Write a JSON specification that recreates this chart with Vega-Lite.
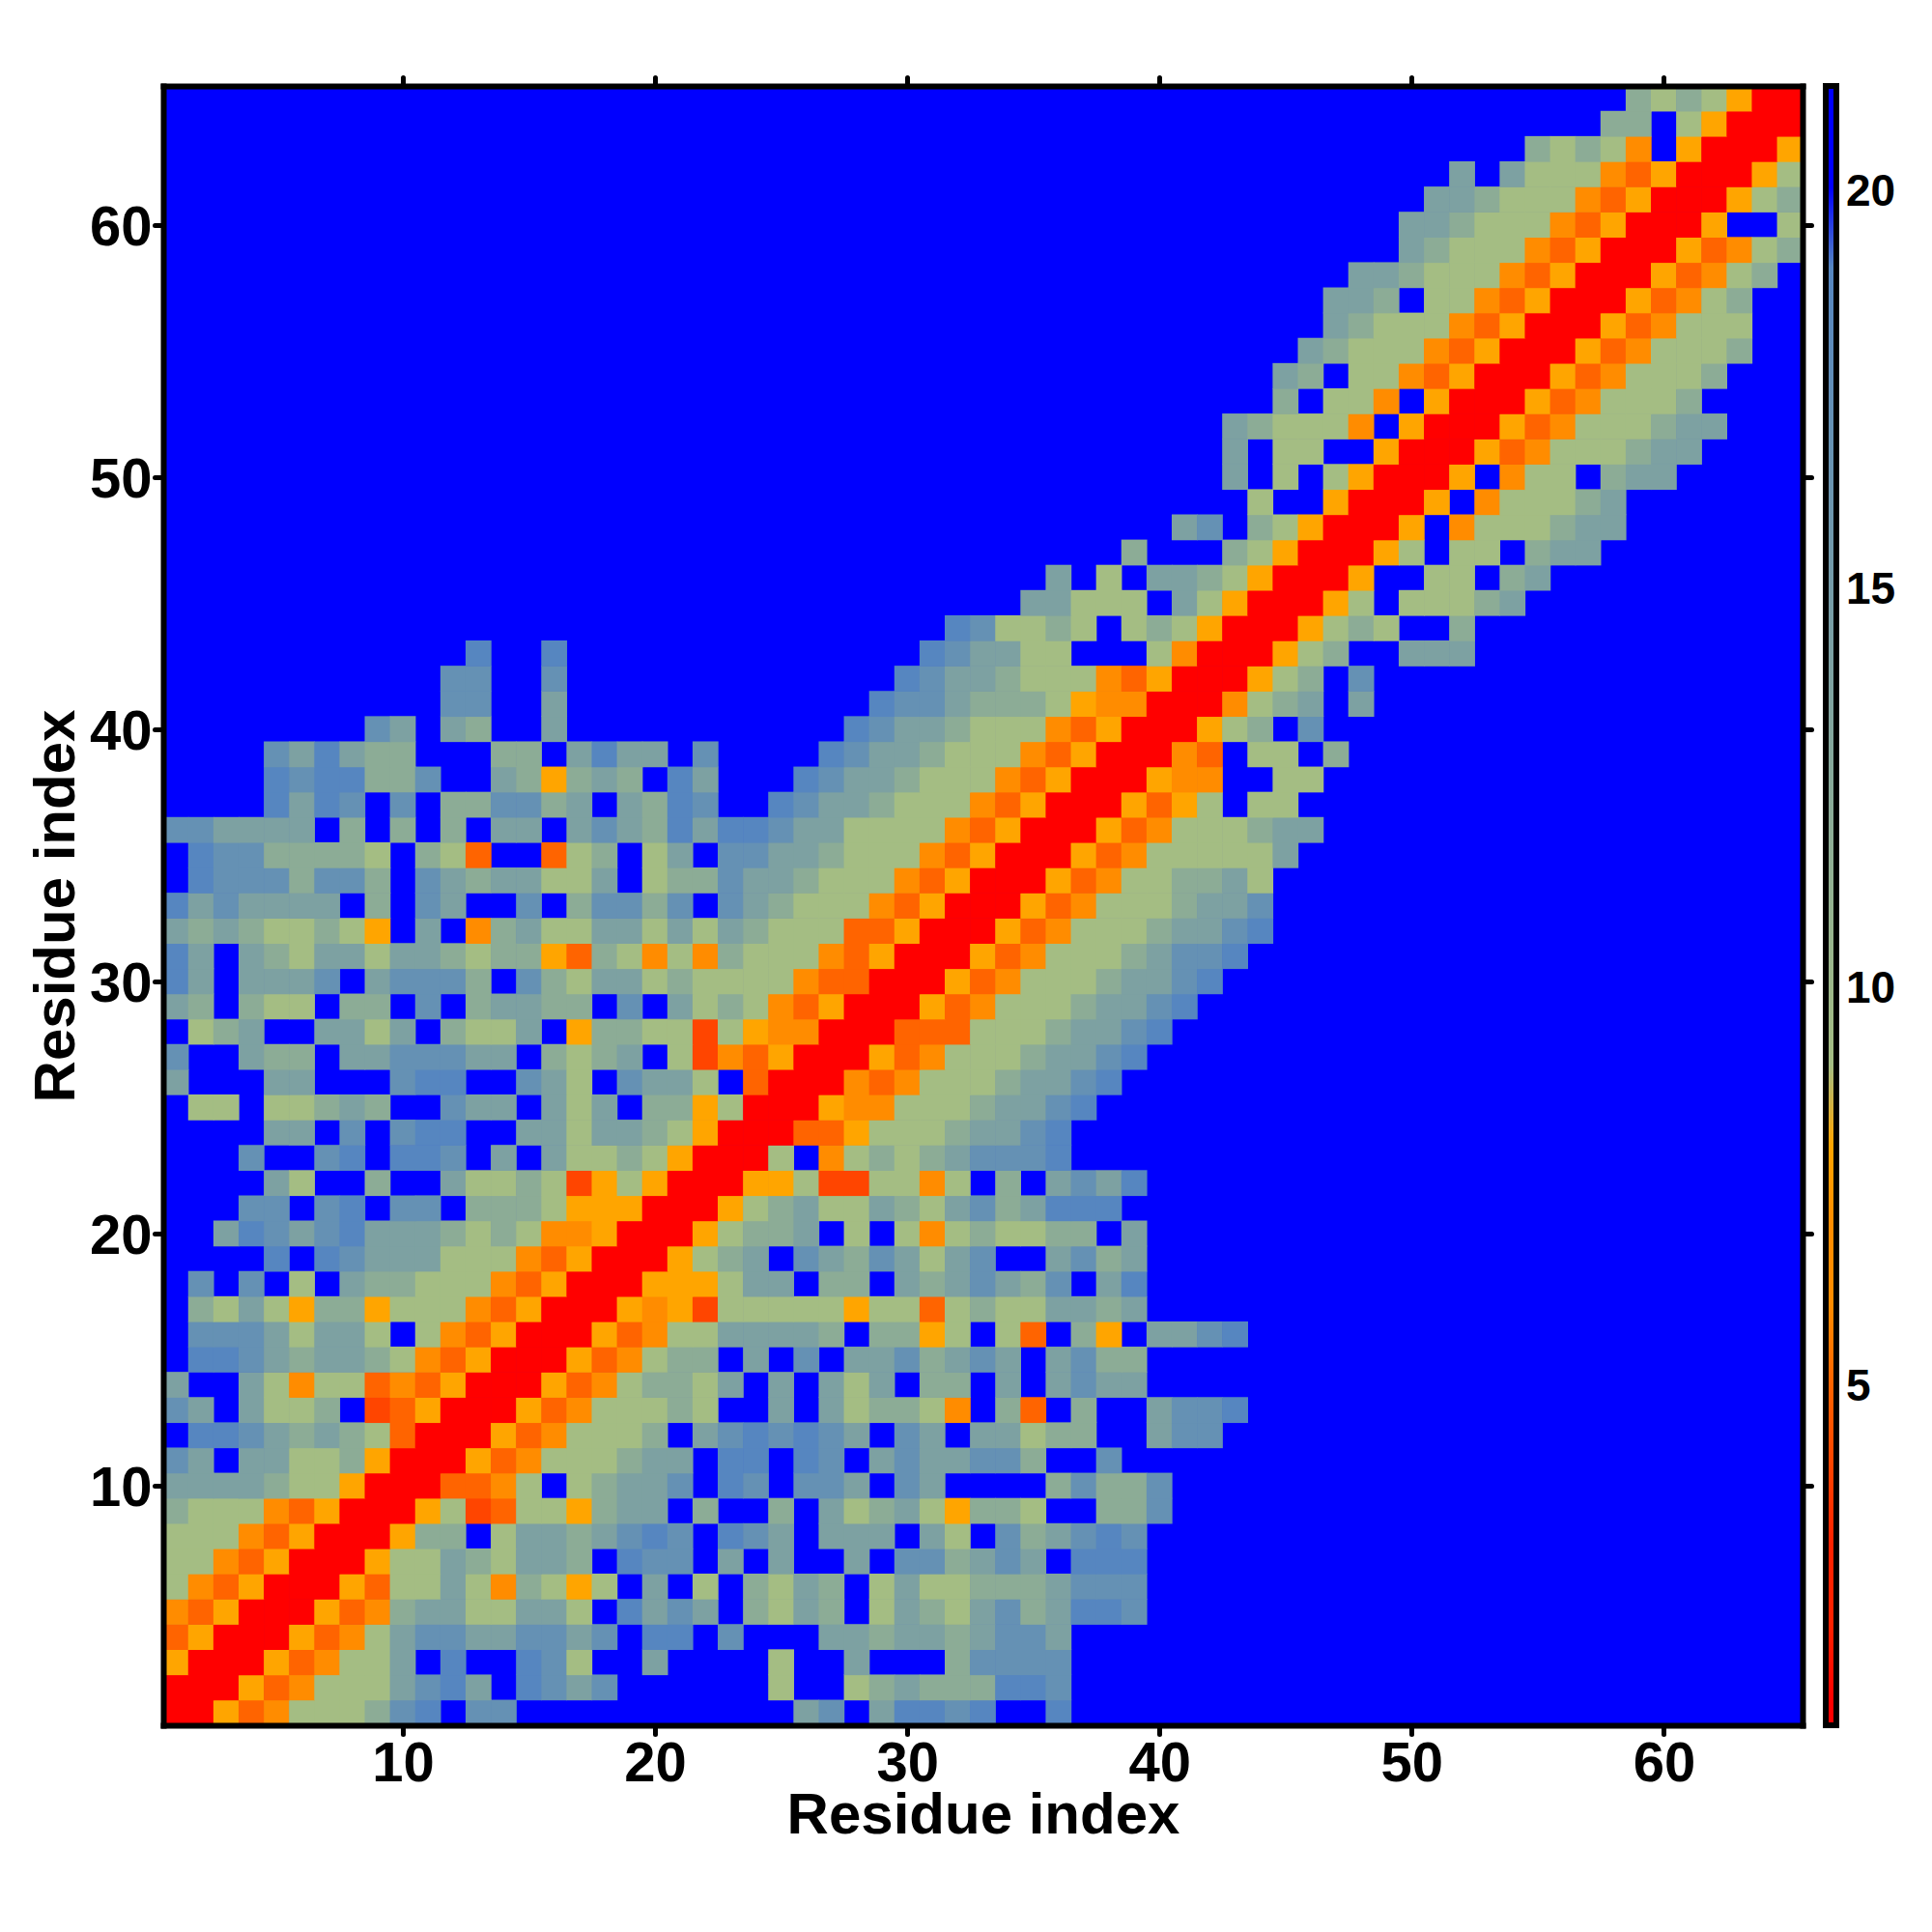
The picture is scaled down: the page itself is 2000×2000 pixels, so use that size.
{"$schema":"https://vega.github.io/schema/vega-lite/v6.json","width":1697,"height":1697,"autosize":"none","padding":{"left":169,"top":89,"right":134,"bottom":214},"background":"white","view":{"fill":"#0000ff","stroke":null},"config":{"font":"Liberation Sans"},"resolve":{"axis":{"x":"independent","y":"independent"}},"layer":[{"data":{"values":[
{"x":1,"y":1,"v":1},{"x":2,"y":1,"v":1},{"x":3,"y":1,"v":8},{"x":4,"y":1,"v":5},{"x":5,"y":1,"v":6},{"x":6,"y":1,"v":9},{"x":7,"y":1,"v":9},{"x":8,"y":1,"v":9},{"x":9,"y":1,"v":12},{"x":10,"y":1,"v":17},{"x":11,"y":1,"v":19},{"x":13,"y":1,"v":17},{"x":14,"y":1,"v":17},{"x":26,"y":1,"v":14},{"x":27,"y":1,"v":17},{"x":29,"y":1,"v":14},{"x":30,"y":1,"v":19},{"x":31,"y":1,"v":19},{"x":32,"y":1,"v":17},{"x":33,"y":1,"v":19},{"x":36,"y":1,"v":19},
{"x":1,"y":2,"v":1},{"x":2,"y":2,"v":1},{"x":3,"y":2,"v":1},{"x":4,"y":2,"v":8},{"x":5,"y":2,"v":5},{"x":6,"y":2,"v":6},{"x":7,"y":2,"v":9},{"x":8,"y":2,"v":9},{"x":9,"y":2,"v":9},{"x":10,"y":2,"v":14},{"x":11,"y":2,"v":17},{"x":12,"y":2,"v":19},{"x":13,"y":2,"v":14},{"x":15,"y":2,"v":19},{"x":16,"y":2,"v":17},{"x":17,"y":2,"v":14},{"x":18,"y":2,"v":17},{"x":25,"y":2,"v":9},{"x":28,"y":2,"v":9},{"x":29,"y":2,"v":12},{"x":30,"y":2,"v":14},{"x":31,"y":2,"v":12},{"x":32,"y":2,"v":12},{"x":33,"y":2,"v":12},{"x":34,"y":2,"v":19},{"x":35,"y":2,"v":19},{"x":36,"y":2,"v":17},
{"x":1,"y":3,"v":8},{"x":2,"y":3,"v":1},{"x":3,"y":3,"v":1},{"x":4,"y":3,"v":1},{"x":5,"y":3,"v":8},{"x":6,"y":3,"v":5},{"x":7,"y":3,"v":6},{"x":8,"y":3,"v":9},{"x":9,"y":3,"v":9},{"x":10,"y":3,"v":14},{"x":12,"y":3,"v":19},{"x":15,"y":3,"v":19},{"x":16,"y":3,"v":17},{"x":17,"y":3,"v":9},{"x":20,"y":3,"v":14},{"x":25,"y":3,"v":9},{"x":28,"y":3,"v":14},{"x":32,"y":3,"v":12},{"x":33,"y":3,"v":17},{"x":34,"y":3,"v":17},{"x":35,"y":3,"v":17},{"x":36,"y":3,"v":17},
{"x":1,"y":4,"v":5},{"x":2,"y":4,"v":8},{"x":3,"y":4,"v":1},{"x":4,"y":4,"v":1},{"x":5,"y":4,"v":1},{"x":6,"y":4,"v":8},{"x":7,"y":4,"v":5},{"x":8,"y":4,"v":6},{"x":9,"y":4,"v":9},{"x":10,"y":4,"v":14},{"x":11,"y":4,"v":17},{"x":12,"y":4,"v":17},{"x":13,"y":4,"v":14},{"x":14,"y":4,"v":14},{"x":15,"y":4,"v":17},{"x":16,"y":4,"v":17},{"x":17,"y":4,"v":14},{"x":18,"y":4,"v":17},{"x":20,"y":4,"v":19},{"x":21,"y":4,"v":19},{"x":23,"y":4,"v":17},{"x":27,"y":4,"v":14},{"x":28,"y":4,"v":14},{"x":29,"y":4,"v":12},{"x":30,"y":4,"v":14},{"x":31,"y":4,"v":14},{"x":32,"y":4,"v":12},{"x":33,"y":4,"v":14},{"x":34,"y":4,"v":17},{"x":35,"y":4,"v":17},{"x":36,"y":4,"v":14},
{"x":1,"y":5,"v":6},{"x":2,"y":5,"v":5},{"x":3,"y":5,"v":8},{"x":4,"y":5,"v":1},{"x":5,"y":5,"v":1},{"x":6,"y":5,"v":1},{"x":7,"y":5,"v":8},{"x":8,"y":5,"v":5},{"x":9,"y":5,"v":6},{"x":10,"y":5,"v":12},{"x":11,"y":5,"v":14},{"x":12,"y":5,"v":14},{"x":13,"y":5,"v":9},{"x":14,"y":5,"v":9},{"x":15,"y":5,"v":14},{"x":16,"y":5,"v":14},{"x":17,"y":5,"v":9},{"x":19,"y":5,"v":19},{"x":20,"y":5,"v":14},{"x":21,"y":5,"v":17},{"x":22,"y":5,"v":14},{"x":24,"y":5,"v":12},{"x":25,"y":5,"v":9},{"x":26,"y":5,"v":14},{"x":27,"y":5,"v":12},{"x":29,"y":5,"v":9},{"x":30,"y":5,"v":14},{"x":31,"y":5,"v":12},{"x":32,"y":5,"v":9},{"x":33,"y":5,"v":14},{"x":34,"y":5,"v":17},{"x":35,"y":5,"v":12},{"x":36,"y":5,"v":14},{"x":37,"y":5,"v":19},{"x":38,"y":5,"v":19},{"x":39,"y":5,"v":17},
{"x":1,"y":6,"v":9},{"x":2,"y":6,"v":6},{"x":3,"y":6,"v":5},{"x":4,"y":6,"v":8},{"x":5,"y":6,"v":1},{"x":6,"y":6,"v":1},{"x":7,"y":6,"v":1},{"x":8,"y":6,"v":8},{"x":9,"y":6,"v":5},{"x":10,"y":6,"v":9},{"x":11,"y":6,"v":9},{"x":12,"y":6,"v":14},{"x":13,"y":6,"v":9},{"x":14,"y":6,"v":6},{"x":15,"y":6,"v":12},{"x":16,"y":6,"v":9},{"x":17,"y":6,"v":8},{"x":18,"y":6,"v":9},{"x":20,"y":6,"v":14},{"x":22,"y":6,"v":9},{"x":24,"y":6,"v":12},{"x":25,"y":6,"v":9},{"x":26,"y":6,"v":14},{"x":27,"y":6,"v":12},{"x":29,"y":6,"v":9},{"x":30,"y":6,"v":14},{"x":31,"y":6,"v":9},{"x":32,"y":6,"v":9},{"x":33,"y":6,"v":12},{"x":34,"y":6,"v":12},{"x":35,"y":6,"v":12},{"x":36,"y":6,"v":14},{"x":37,"y":6,"v":17},{"x":38,"y":6,"v":17},{"x":39,"y":6,"v":17},
{"x":1,"y":7,"v":9},{"x":2,"y":7,"v":9},{"x":3,"y":7,"v":6},{"x":4,"y":7,"v":5},{"x":5,"y":7,"v":8},{"x":6,"y":7,"v":1},{"x":7,"y":7,"v":1},{"x":8,"y":7,"v":1},{"x":9,"y":7,"v":8},{"x":10,"y":7,"v":9},{"x":11,"y":7,"v":9},{"x":12,"y":7,"v":14},{"x":13,"y":7,"v":12},{"x":14,"y":7,"v":9},{"x":15,"y":7,"v":14},{"x":16,"y":7,"v":14},{"x":17,"y":7,"v":12},{"x":19,"y":7,"v":19},{"x":20,"y":7,"v":17},{"x":21,"y":7,"v":17},{"x":23,"y":7,"v":14},{"x":25,"y":7,"v":14},{"x":28,"y":7,"v":14},{"x":30,"y":7,"v":17},{"x":31,"y":7,"v":17},{"x":32,"y":7,"v":12},{"x":33,"y":7,"v":14},{"x":34,"y":7,"v":17},{"x":35,"y":7,"v":14},{"x":37,"y":7,"v":19},{"x":38,"y":7,"v":19},{"x":39,"y":7,"v":19},
{"x":1,"y":8,"v":9},{"x":2,"y":8,"v":9},{"x":3,"y":8,"v":9},{"x":4,"y":8,"v":6},{"x":5,"y":8,"v":5},{"x":6,"y":8,"v":8},{"x":7,"y":8,"v":1},{"x":8,"y":8,"v":1},{"x":9,"y":8,"v":1},{"x":10,"y":8,"v":8},{"x":11,"y":8,"v":12},{"x":12,"y":8,"v":12},{"x":14,"y":8,"v":9},{"x":15,"y":8,"v":14},{"x":16,"y":8,"v":14},{"x":17,"y":8,"v":12},{"x":18,"y":8,"v":14},{"x":19,"y":8,"v":17},{"x":20,"y":8,"v":19},{"x":21,"y":8,"v":17},{"x":23,"y":8,"v":19},{"x":24,"y":8,"v":17},{"x":25,"y":8,"v":14},{"x":27,"y":8,"v":14},{"x":28,"y":8,"v":14},{"x":29,"y":8,"v":14},{"x":31,"y":8,"v":14},{"x":32,"y":8,"v":9},{"x":34,"y":8,"v":17},{"x":35,"y":8,"v":12},{"x":36,"y":8,"v":14},{"x":37,"y":8,"v":17},{"x":38,"y":8,"v":19},{"x":39,"y":8,"v":17},
{"x":1,"y":9,"v":12},{"x":2,"y":9,"v":9},{"x":3,"y":9,"v":9},{"x":4,"y":9,"v":9},{"x":5,"y":9,"v":6},{"x":6,"y":9,"v":5},{"x":7,"y":9,"v":8},{"x":8,"y":9,"v":1},{"x":9,"y":9,"v":1},{"x":10,"y":9,"v":1},{"x":11,"y":9,"v":8},{"x":12,"y":9,"v":9},{"x":13,"y":9,"v":4},{"x":14,"y":9,"v":5},{"x":15,"y":9,"v":9},{"x":16,"y":9,"v":9},{"x":17,"y":9,"v":8},{"x":18,"y":9,"v":12},{"x":19,"y":9,"v":14},{"x":20,"y":9,"v":14},{"x":22,"y":9,"v":12},{"x":25,"y":9,"v":12},{"x":27,"y":9,"v":14},{"x":28,"y":9,"v":9},{"x":29,"y":9,"v":12},{"x":30,"y":9,"v":14},{"x":31,"y":9,"v":9},{"x":32,"y":9,"v":8},{"x":33,"y":9,"v":12},{"x":34,"y":9,"v":12},{"x":35,"y":9,"v":9},{"x":38,"y":9,"v":12},{"x":39,"y":9,"v":12},{"x":40,"y":9,"v":17},
{"x":1,"y":10,"v":14},{"x":2,"y":10,"v":14},{"x":3,"y":10,"v":14},{"x":4,"y":10,"v":14},{"x":5,"y":10,"v":12},{"x":6,"y":10,"v":9},{"x":7,"y":10,"v":9},{"x":8,"y":10,"v":8},{"x":9,"y":10,"v":1},{"x":10,"y":10,"v":1},{"x":11,"y":10,"v":1},{"x":12,"y":10,"v":5},{"x":13,"y":10,"v":5},{"x":14,"y":10,"v":6},{"x":15,"y":10,"v":9},{"x":17,"y":10,"v":9},{"x":18,"y":10,"v":12},{"x":19,"y":10,"v":14},{"x":20,"y":10,"v":14},{"x":21,"y":10,"v":17},{"x":23,"y":10,"v":19},{"x":24,"y":10,"v":17},{"x":26,"y":10,"v":17},{"x":27,"y":10,"v":17},{"x":28,"y":10,"v":14},{"x":30,"y":10,"v":17},{"x":31,"y":10,"v":14},{"x":36,"y":10,"v":12},{"x":37,"y":10,"v":17},{"x":38,"y":10,"v":12},{"x":39,"y":10,"v":12},{"x":40,"y":10,"v":17},
{"x":1,"y":11,"v":17},{"x":2,"y":11,"v":14},{"x":4,"y":11,"v":14},{"x":5,"y":11,"v":14},{"x":6,"y":11,"v":9},{"x":7,"y":11,"v":9},{"x":8,"y":11,"v":12},{"x":9,"y":11,"v":8},{"x":10,"y":11,"v":1},{"x":11,"y":11,"v":1},{"x":12,"y":11,"v":1},{"x":13,"y":11,"v":8},{"x":14,"y":11,"v":5},{"x":15,"y":11,"v":6},{"x":16,"y":11,"v":9},{"x":17,"y":11,"v":9},{"x":18,"y":11,"v":9},{"x":19,"y":11,"v":12},{"x":20,"y":11,"v":14},{"x":21,"y":11,"v":14},{"x":23,"y":11,"v":19},{"x":24,"y":11,"v":19},{"x":26,"y":11,"v":19},{"x":27,"y":11,"v":17},{"x":29,"y":11,"v":14},{"x":30,"y":11,"v":17},{"x":31,"y":11,"v":14},{"x":32,"y":11,"v":14},{"x":33,"y":11,"v":17},{"x":34,"y":11,"v":17},{"x":35,"y":11,"v":12},{"x":38,"y":11,"v":17},
{"x":2,"y":12,"v":19},{"x":3,"y":12,"v":19},{"x":4,"y":12,"v":17},{"x":5,"y":12,"v":14},{"x":6,"y":12,"v":12},{"x":7,"y":12,"v":14},{"x":8,"y":12,"v":12},{"x":9,"y":12,"v":9},{"x":10,"y":12,"v":5},{"x":11,"y":12,"v":1},{"x":12,"y":12,"v":1},{"x":13,"y":12,"v":1},{"x":14,"y":12,"v":8},{"x":15,"y":12,"v":5},{"x":16,"y":12,"v":6},{"x":17,"y":12,"v":9},{"x":18,"y":12,"v":9},{"x":19,"y":12,"v":9},{"x":20,"y":12,"v":12},{"x":22,"y":12,"v":14},{"x":23,"y":12,"v":17},{"x":24,"y":12,"v":19},{"x":25,"y":12,"v":17},{"x":26,"y":12,"v":19},{"x":27,"y":12,"v":17},{"x":28,"y":12,"v":14},{"x":30,"y":12,"v":17},{"x":31,"y":12,"v":14},{"x":33,"y":12,"v":14},{"x":34,"y":12,"v":14},{"x":35,"y":12,"v":9},{"x":36,"y":12,"v":12},{"x":37,"y":12,"v":12},{"x":40,"y":12,"v":14},{"x":41,"y":12,"v":17},{"x":42,"y":12,"v":17},
{"x":1,"y":13,"v":17},{"x":2,"y":13,"v":14},{"x":4,"y":13,"v":14},{"x":5,"y":13,"v":9},{"x":6,"y":13,"v":9},{"x":7,"y":13,"v":12},{"x":9,"y":13,"v":4},{"x":10,"y":13,"v":5},{"x":11,"y":13,"v":8},{"x":12,"y":13,"v":1},{"x":13,"y":13,"v":1},{"x":14,"y":13,"v":1},{"x":15,"y":13,"v":8},{"x":16,"y":13,"v":5},{"x":17,"y":13,"v":6},{"x":18,"y":13,"v":9},{"x":19,"y":13,"v":9},{"x":20,"y":13,"v":9},{"x":21,"y":13,"v":12},{"x":22,"y":13,"v":9},{"x":25,"y":13,"v":14},{"x":27,"y":13,"v":14},{"x":28,"y":13,"v":9},{"x":29,"y":13,"v":12},{"x":30,"y":13,"v":12},{"x":31,"y":13,"v":9},{"x":32,"y":13,"v":6},{"x":34,"y":13,"v":12},{"x":35,"y":13,"v":5},{"x":37,"y":13,"v":12},{"x":40,"y":13,"v":14},{"x":41,"y":13,"v":17},{"x":42,"y":13,"v":17},{"x":43,"y":13,"v":19},
{"x":1,"y":14,"v":14},{"x":4,"y":14,"v":14},{"x":5,"y":14,"v":9},{"x":6,"y":14,"v":6},{"x":7,"y":14,"v":9},{"x":8,"y":14,"v":9},{"x":9,"y":14,"v":5},{"x":10,"y":14,"v":6},{"x":11,"y":14,"v":5},{"x":12,"y":14,"v":8},{"x":13,"y":14,"v":1},{"x":14,"y":14,"v":1},{"x":15,"y":14,"v":1},{"x":16,"y":14,"v":8},{"x":17,"y":14,"v":5},{"x":18,"y":14,"v":6},{"x":19,"y":14,"v":9},{"x":20,"y":14,"v":12},{"x":21,"y":14,"v":12},{"x":22,"y":14,"v":9},{"x":23,"y":14,"v":14},{"x":25,"y":14,"v":14},{"x":27,"y":14,"v":14},{"x":28,"y":14,"v":9},{"x":29,"y":14,"v":14},{"x":31,"y":14,"v":12},{"x":32,"y":14,"v":12},{"x":34,"y":14,"v":14},{"x":36,"y":14,"v":14},{"x":37,"y":14,"v":17},{"x":38,"y":14,"v":14},{"x":39,"y":14,"v":14},
{"x":2,"y":15,"v":19},{"x":3,"y":15,"v":19},{"x":4,"y":15,"v":17},{"x":5,"y":15,"v":14},{"x":6,"y":15,"v":12},{"x":7,"y":15,"v":14},{"x":8,"y":15,"v":14},{"x":9,"y":15,"v":12},{"x":10,"y":15,"v":9},{"x":11,"y":15,"v":6},{"x":12,"y":15,"v":5},{"x":13,"y":15,"v":8},{"x":14,"y":15,"v":1},{"x":15,"y":15,"v":1},{"x":16,"y":15,"v":1},{"x":17,"y":15,"v":8},{"x":18,"y":15,"v":5},{"x":19,"y":15,"v":6},{"x":20,"y":15,"v":9},{"x":21,"y":15,"v":12},{"x":22,"y":15,"v":12},{"x":24,"y":15,"v":14},{"x":26,"y":15,"v":17},{"x":28,"y":15,"v":14},{"x":29,"y":15,"v":14},{"x":30,"y":15,"v":17},{"x":31,"y":15,"v":12},{"x":32,"y":15,"v":14},{"x":33,"y":15,"v":17},{"x":34,"y":15,"v":14},{"x":36,"y":15,"v":14},{"x":37,"y":15,"v":17},{"x":38,"y":15,"v":12},{"x":39,"y":15,"v":12},
{"x":2,"y":16,"v":17},{"x":3,"y":16,"v":17},{"x":4,"y":16,"v":17},{"x":5,"y":16,"v":14},{"x":6,"y":16,"v":9},{"x":7,"y":16,"v":14},{"x":8,"y":16,"v":14},{"x":9,"y":16,"v":9},{"x":11,"y":16,"v":9},{"x":12,"y":16,"v":6},{"x":13,"y":16,"v":5},{"x":14,"y":16,"v":8},{"x":15,"y":16,"v":1},{"x":16,"y":16,"v":1},{"x":17,"y":16,"v":1},{"x":18,"y":16,"v":8},{"x":19,"y":16,"v":5},{"x":20,"y":16,"v":6},{"x":21,"y":16,"v":9},{"x":22,"y":16,"v":9},{"x":23,"y":16,"v":14},{"x":24,"y":16,"v":14},{"x":25,"y":16,"v":14},{"x":26,"y":16,"v":14},{"x":27,"y":16,"v":12},{"x":29,"y":16,"v":12},{"x":30,"y":16,"v":12},{"x":31,"y":16,"v":8},{"x":32,"y":16,"v":9},{"x":34,"y":16,"v":9},{"x":35,"y":16,"v":5},{"x":37,"y":16,"v":12},{"x":38,"y":16,"v":8},{"x":40,"y":16,"v":14},{"x":41,"y":16,"v":14},{"x":42,"y":16,"v":17},{"x":43,"y":16,"v":19},
{"x":2,"y":17,"v":12},{"x":3,"y":17,"v":9},{"x":4,"y":17,"v":14},{"x":5,"y":17,"v":9},{"x":6,"y":17,"v":8},{"x":7,"y":17,"v":12},{"x":8,"y":17,"v":12},{"x":9,"y":17,"v":8},{"x":10,"y":17,"v":9},{"x":11,"y":17,"v":9},{"x":12,"y":17,"v":9},{"x":13,"y":17,"v":6},{"x":14,"y":17,"v":5},{"x":15,"y":17,"v":8},{"x":16,"y":17,"v":1},{"x":17,"y":17,"v":1},{"x":18,"y":17,"v":1},{"x":19,"y":17,"v":8},{"x":20,"y":17,"v":6},{"x":21,"y":17,"v":8},{"x":22,"y":17,"v":4},{"x":23,"y":17,"v":9},{"x":24,"y":17,"v":9},{"x":25,"y":17,"v":9},{"x":26,"y":17,"v":9},{"x":27,"y":17,"v":9},{"x":28,"y":17,"v":8},{"x":29,"y":17,"v":9},{"x":30,"y":17,"v":9},{"x":31,"y":17,"v":5},{"x":32,"y":17,"v":9},{"x":33,"y":17,"v":12},{"x":34,"y":17,"v":9},{"x":35,"y":17,"v":9},{"x":36,"y":17,"v":14},{"x":37,"y":17,"v":14},{"x":38,"y":17,"v":12},{"x":39,"y":17,"v":14},
{"x":2,"y":18,"v":17},{"x":4,"y":18,"v":17},{"x":6,"y":18,"v":9},{"x":8,"y":18,"v":14},{"x":9,"y":18,"v":12},{"x":10,"y":18,"v":12},{"x":11,"y":18,"v":9},{"x":12,"y":18,"v":9},{"x":13,"y":18,"v":9},{"x":14,"y":18,"v":6},{"x":15,"y":18,"v":5},{"x":16,"y":18,"v":8},{"x":17,"y":18,"v":1},{"x":18,"y":18,"v":1},{"x":19,"y":18,"v":1},{"x":20,"y":18,"v":8},{"x":21,"y":18,"v":8},{"x":22,"y":18,"v":8},{"x":23,"y":18,"v":9},{"x":24,"y":18,"v":14},{"x":25,"y":18,"v":14},{"x":27,"y":18,"v":12},{"x":28,"y":18,"v":12},{"x":30,"y":18,"v":14},{"x":31,"y":18,"v":12},{"x":32,"y":18,"v":14},{"x":33,"y":18,"v":17},{"x":34,"y":18,"v":14},{"x":35,"y":18,"v":12},{"x":36,"y":18,"v":17},{"x":38,"y":18,"v":14},{"x":39,"y":18,"v":19},
{"x":5,"y":19,"v":19},{"x":7,"y":19,"v":19},{"x":8,"y":19,"v":17},{"x":9,"y":19,"v":14},{"x":10,"y":19,"v":14},{"x":11,"y":19,"v":14},{"x":12,"y":19,"v":9},{"x":13,"y":19,"v":9},{"x":14,"y":19,"v":9},{"x":15,"y":19,"v":6},{"x":16,"y":19,"v":5},{"x":17,"y":19,"v":8},{"x":18,"y":19,"v":1},{"x":19,"y":19,"v":1},{"x":20,"y":19,"v":1},{"x":21,"y":19,"v":8},{"x":22,"y":19,"v":9},{"x":23,"y":19,"v":12},{"x":24,"y":19,"v":14},{"x":26,"y":19,"v":17},{"x":27,"y":19,"v":14},{"x":28,"y":19,"v":12},{"x":29,"y":19,"v":17},{"x":30,"y":19,"v":14},{"x":31,"y":19,"v":9},{"x":32,"y":19,"v":14},{"x":33,"y":19,"v":17},{"x":36,"y":19,"v":14},{"x":37,"y":19,"v":17},{"x":38,"y":19,"v":12},{"x":39,"y":19,"v":14},
{"x":3,"y":20,"v":14},{"x":4,"y":20,"v":19},{"x":5,"y":20,"v":17},{"x":6,"y":20,"v":14},{"x":7,"y":20,"v":17},{"x":8,"y":20,"v":19},{"x":9,"y":20,"v":14},{"x":10,"y":20,"v":14},{"x":11,"y":20,"v":14},{"x":12,"y":20,"v":12},{"x":13,"y":20,"v":9},{"x":14,"y":20,"v":12},{"x":15,"y":20,"v":9},{"x":16,"y":20,"v":6},{"x":17,"y":20,"v":6},{"x":18,"y":20,"v":8},{"x":19,"y":20,"v":1},{"x":20,"y":20,"v":1},{"x":21,"y":20,"v":1},{"x":22,"y":20,"v":8},{"x":23,"y":20,"v":9},{"x":24,"y":20,"v":12},{"x":25,"y":20,"v":12},{"x":26,"y":20,"v":14},{"x":28,"y":20,"v":9},{"x":30,"y":20,"v":9},{"x":31,"y":20,"v":6},{"x":32,"y":20,"v":9},{"x":33,"y":20,"v":12},{"x":34,"y":20,"v":9},{"x":35,"y":20,"v":9},{"x":36,"y":20,"v":12},{"x":37,"y":20,"v":12},{"x":39,"y":20,"v":14},
{"x":4,"y":21,"v":17},{"x":5,"y":21,"v":17},{"x":7,"y":21,"v":17},{"x":8,"y":21,"v":19},{"x":10,"y":21,"v":17},{"x":11,"y":21,"v":17},{"x":13,"y":21,"v":12},{"x":14,"y":21,"v":12},{"x":15,"y":21,"v":12},{"x":16,"y":21,"v":9},{"x":17,"y":21,"v":8},{"x":18,"y":21,"v":8},{"x":19,"y":21,"v":8},{"x":20,"y":21,"v":1},{"x":21,"y":21,"v":1},{"x":22,"y":21,"v":1},{"x":23,"y":21,"v":8},{"x":24,"y":21,"v":9},{"x":25,"y":21,"v":12},{"x":26,"y":21,"v":14},{"x":27,"y":21,"v":9},{"x":28,"y":21,"v":9},{"x":29,"y":21,"v":14},{"x":30,"y":21,"v":12},{"x":31,"y":21,"v":9},{"x":32,"y":21,"v":14},{"x":33,"y":21,"v":17},{"x":34,"y":21,"v":12},{"x":35,"y":21,"v":14},{"x":36,"y":21,"v":19},{"x":37,"y":21,"v":19},{"x":38,"y":21,"v":19},
{"x":5,"y":22,"v":14},{"x":6,"y":22,"v":9},{"x":9,"y":22,"v":12},{"x":12,"y":22,"v":14},{"x":13,"y":22,"v":9},{"x":14,"y":22,"v":9},{"x":15,"y":22,"v":12},{"x":16,"y":22,"v":9},{"x":17,"y":22,"v":4},{"x":18,"y":22,"v":8},{"x":19,"y":22,"v":9},{"x":20,"y":22,"v":8},{"x":21,"y":22,"v":1},{"x":22,"y":22,"v":1},{"x":23,"y":22,"v":1},{"x":24,"y":22,"v":8},{"x":25,"y":22,"v":8},{"x":26,"y":22,"v":9},{"x":27,"y":22,"v":4},{"x":28,"y":22,"v":4},{"x":29,"y":22,"v":9},{"x":30,"y":22,"v":9},{"x":31,"y":22,"v":6},{"x":32,"y":22,"v":9},{"x":34,"y":22,"v":12},{"x":36,"y":22,"v":14},{"x":37,"y":22,"v":17},{"x":38,"y":22,"v":14},{"x":39,"y":22,"v":19},
{"x":4,"y":23,"v":17},{"x":7,"y":23,"v":17},{"x":8,"y":23,"v":19},{"x":10,"y":23,"v":19},{"x":11,"y":23,"v":19},{"x":12,"y":23,"v":17},{"x":14,"y":23,"v":14},{"x":16,"y":23,"v":14},{"x":17,"y":23,"v":9},{"x":18,"y":23,"v":9},{"x":19,"y":23,"v":12},{"x":20,"y":23,"v":9},{"x":21,"y":23,"v":8},{"x":22,"y":23,"v":1},{"x":23,"y":23,"v":1},{"x":24,"y":23,"v":1},{"x":25,"y":23,"v":9},{"x":27,"y":23,"v":6},{"x":28,"y":23,"v":9},{"x":29,"y":23,"v":12},{"x":30,"y":23,"v":9},{"x":31,"y":23,"v":12},{"x":32,"y":23,"v":14},{"x":33,"y":23,"v":17},{"x":34,"y":23,"v":17},{"x":35,"y":23,"v":17},{"x":36,"y":23,"v":19},
{"x":5,"y":24,"v":14},{"x":6,"y":24,"v":14},{"x":8,"y":24,"v":17},{"x":10,"y":24,"v":17},{"x":11,"y":24,"v":19},{"x":12,"y":24,"v":19},{"x":15,"y":24,"v":14},{"x":16,"y":24,"v":14},{"x":17,"y":24,"v":9},{"x":18,"y":24,"v":14},{"x":19,"y":24,"v":14},{"x":20,"y":24,"v":12},{"x":21,"y":24,"v":9},{"x":22,"y":24,"v":8},{"x":23,"y":24,"v":1},{"x":24,"y":24,"v":1},{"x":25,"y":24,"v":1},{"x":26,"y":24,"v":5},{"x":27,"y":24,"v":5},{"x":28,"y":24,"v":8},{"x":29,"y":24,"v":9},{"x":30,"y":24,"v":9},{"x":31,"y":24,"v":9},{"x":32,"y":24,"v":12},{"x":33,"y":24,"v":14},{"x":34,"y":24,"v":14},{"x":35,"y":24,"v":17},{"x":36,"y":24,"v":19},
{"x":2,"y":25,"v":9},{"x":3,"y":25,"v":9},{"x":5,"y":25,"v":9},{"x":6,"y":25,"v":9},{"x":7,"y":25,"v":12},{"x":8,"y":25,"v":14},{"x":9,"y":25,"v":12},{"x":12,"y":25,"v":17},{"x":13,"y":25,"v":14},{"x":14,"y":25,"v":14},{"x":16,"y":25,"v":14},{"x":17,"y":25,"v":9},{"x":18,"y":25,"v":14},{"x":20,"y":25,"v":12},{"x":21,"y":25,"v":12},{"x":22,"y":25,"v":8},{"x":23,"y":25,"v":9},{"x":24,"y":25,"v":1},{"x":25,"y":25,"v":1},{"x":26,"y":25,"v":1},{"x":27,"y":25,"v":8},{"x":28,"y":25,"v":6},{"x":29,"y":25,"v":6},{"x":30,"y":25,"v":9},{"x":31,"y":25,"v":9},{"x":32,"y":25,"v":9},{"x":33,"y":25,"v":12},{"x":34,"y":25,"v":14},{"x":35,"y":25,"v":14},{"x":36,"y":25,"v":17},{"x":37,"y":25,"v":19},
{"x":1,"y":26,"v":14},{"x":5,"y":26,"v":14},{"x":6,"y":26,"v":14},{"x":10,"y":26,"v":17},{"x":11,"y":26,"v":19},{"x":12,"y":26,"v":19},{"x":15,"y":26,"v":17},{"x":16,"y":26,"v":14},{"x":17,"y":26,"v":9},{"x":19,"y":26,"v":17},{"x":20,"y":26,"v":14},{"x":21,"y":26,"v":14},{"x":22,"y":26,"v":9},{"x":24,"y":26,"v":5},{"x":25,"y":26,"v":1},{"x":26,"y":26,"v":1},{"x":27,"y":26,"v":1},{"x":28,"y":26,"v":6},{"x":29,"y":26,"v":5},{"x":30,"y":26,"v":6},{"x":31,"y":26,"v":9},{"x":32,"y":26,"v":9},{"x":33,"y":26,"v":9},{"x":34,"y":26,"v":12},{"x":35,"y":26,"v":14},{"x":36,"y":26,"v":14},{"x":37,"y":26,"v":17},{"x":38,"y":26,"v":19},
{"x":1,"y":27,"v":17},{"x":4,"y":27,"v":14},{"x":5,"y":27,"v":12},{"x":6,"y":27,"v":12},{"x":8,"y":27,"v":14},{"x":9,"y":27,"v":14},{"x":10,"y":27,"v":17},{"x":11,"y":27,"v":17},{"x":12,"y":27,"v":17},{"x":13,"y":27,"v":14},{"x":14,"y":27,"v":14},{"x":16,"y":27,"v":12},{"x":17,"y":27,"v":9},{"x":18,"y":27,"v":12},{"x":19,"y":27,"v":14},{"x":21,"y":27,"v":9},{"x":22,"y":27,"v":4},{"x":23,"y":27,"v":6},{"x":24,"y":27,"v":5},{"x":25,"y":27,"v":8},{"x":26,"y":27,"v":1},{"x":27,"y":27,"v":1},{"x":28,"y":27,"v":1},{"x":29,"y":27,"v":8},{"x":30,"y":27,"v":5},{"x":31,"y":27,"v":6},{"x":32,"y":27,"v":9},{"x":33,"y":27,"v":9},{"x":34,"y":27,"v":9},{"x":35,"y":27,"v":12},{"x":36,"y":27,"v":14},{"x":37,"y":27,"v":14},{"x":38,"y":27,"v":17},{"x":39,"y":27,"v":19},
{"x":2,"y":28,"v":9},{"x":3,"y":28,"v":12},{"x":4,"y":28,"v":14},{"x":7,"y":28,"v":14},{"x":8,"y":28,"v":14},{"x":9,"y":28,"v":9},{"x":10,"y":28,"v":14},{"x":12,"y":28,"v":12},{"x":13,"y":28,"v":9},{"x":14,"y":28,"v":9},{"x":15,"y":28,"v":14},{"x":17,"y":28,"v":8},{"x":18,"y":28,"v":12},{"x":19,"y":28,"v":12},{"x":20,"y":28,"v":9},{"x":21,"y":28,"v":9},{"x":22,"y":28,"v":4},{"x":23,"y":28,"v":9},{"x":24,"y":28,"v":8},{"x":25,"y":28,"v":6},{"x":26,"y":28,"v":6},{"x":27,"y":28,"v":1},{"x":28,"y":28,"v":1},{"x":29,"y":28,"v":1},{"x":30,"y":28,"v":5},{"x":31,"y":28,"v":5},{"x":32,"y":28,"v":5},{"x":33,"y":28,"v":9},{"x":34,"y":28,"v":9},{"x":35,"y":28,"v":9},{"x":36,"y":28,"v":12},{"x":37,"y":28,"v":14},{"x":38,"y":28,"v":14},{"x":39,"y":28,"v":17},{"x":40,"y":28,"v":19},
{"x":1,"y":29,"v":14},{"x":2,"y":29,"v":12},{"x":4,"y":29,"v":12},{"x":5,"y":29,"v":9},{"x":6,"y":29,"v":9},{"x":8,"y":29,"v":12},{"x":9,"y":29,"v":12},{"x":11,"y":29,"v":17},{"x":13,"y":29,"v":12},{"x":14,"y":29,"v":14},{"x":15,"y":29,"v":14},{"x":16,"y":29,"v":12},{"x":17,"y":29,"v":12},{"x":19,"y":29,"v":17},{"x":21,"y":29,"v":14},{"x":22,"y":29,"v":9},{"x":23,"y":29,"v":12},{"x":24,"y":29,"v":9},{"x":25,"y":29,"v":6},{"x":26,"y":29,"v":5},{"x":27,"y":29,"v":8},{"x":28,"y":29,"v":1},{"x":29,"y":29,"v":1},{"x":30,"y":29,"v":1},{"x":31,"y":29,"v":8},{"x":32,"y":29,"v":5},{"x":33,"y":29,"v":6},{"x":34,"y":29,"v":9},{"x":35,"y":29,"v":9},{"x":36,"y":29,"v":9},{"x":37,"y":29,"v":12},{"x":38,"y":29,"v":14},{"x":39,"y":29,"v":14},{"x":40,"y":29,"v":17},{"x":41,"y":29,"v":19},
{"x":1,"y":30,"v":19},{"x":2,"y":30,"v":14},{"x":4,"y":30,"v":14},{"x":5,"y":30,"v":14},{"x":6,"y":30,"v":14},{"x":7,"y":30,"v":17},{"x":9,"y":30,"v":14},{"x":10,"y":30,"v":17},{"x":11,"y":30,"v":17},{"x":12,"y":30,"v":17},{"x":13,"y":30,"v":12},{"x":15,"y":30,"v":17},{"x":16,"y":30,"v":12},{"x":17,"y":30,"v":9},{"x":18,"y":30,"v":14},{"x":19,"y":30,"v":14},{"x":20,"y":30,"v":9},{"x":21,"y":30,"v":12},{"x":22,"y":30,"v":9},{"x":23,"y":30,"v":9},{"x":24,"y":30,"v":9},{"x":25,"y":30,"v":9},{"x":26,"y":30,"v":6},{"x":27,"y":30,"v":5},{"x":28,"y":30,"v":5},{"x":29,"y":30,"v":1},{"x":30,"y":30,"v":1},{"x":31,"y":30,"v":1},{"x":32,"y":30,"v":8},{"x":33,"y":30,"v":5},{"x":34,"y":30,"v":6},{"x":35,"y":30,"v":9},{"x":36,"y":30,"v":9},{"x":37,"y":30,"v":9},{"x":38,"y":30,"v":12},{"x":39,"y":30,"v":14},{"x":40,"y":30,"v":14},{"x":41,"y":30,"v":17},{"x":42,"y":30,"v":19},
{"x":1,"y":31,"v":19},{"x":2,"y":31,"v":14},{"x":4,"y":31,"v":14},{"x":5,"y":31,"v":12},{"x":6,"y":31,"v":9},{"x":7,"y":31,"v":14},{"x":8,"y":31,"v":14},{"x":9,"y":31,"v":9},{"x":10,"y":31,"v":14},{"x":11,"y":31,"v":14},{"x":12,"y":31,"v":12},{"x":13,"y":31,"v":9},{"x":14,"y":31,"v":12},{"x":15,"y":31,"v":12},{"x":16,"y":31,"v":8},{"x":17,"y":31,"v":5},{"x":18,"y":31,"v":12},{"x":19,"y":31,"v":9},{"x":20,"y":31,"v":6},{"x":21,"y":31,"v":9},{"x":22,"y":31,"v":6},{"x":23,"y":31,"v":12},{"x":24,"y":31,"v":9},{"x":25,"y":31,"v":9},{"x":26,"y":31,"v":9},{"x":27,"y":31,"v":6},{"x":28,"y":31,"v":5},{"x":29,"y":31,"v":8},{"x":30,"y":31,"v":1},{"x":31,"y":31,"v":1},{"x":32,"y":31,"v":1},{"x":33,"y":31,"v":8},{"x":34,"y":31,"v":5},{"x":35,"y":31,"v":6},{"x":36,"y":31,"v":9},{"x":37,"y":31,"v":9},{"x":38,"y":31,"v":9},{"x":39,"y":31,"v":12},{"x":40,"y":31,"v":14},{"x":41,"y":31,"v":17},{"x":42,"y":31,"v":17},{"x":43,"y":31,"v":19},
{"x":1,"y":32,"v":14},{"x":2,"y":32,"v":12},{"x":3,"y":32,"v":14},{"x":4,"y":32,"v":12},{"x":5,"y":32,"v":9},{"x":6,"y":32,"v":9},{"x":7,"y":32,"v":12},{"x":8,"y":32,"v":9},{"x":9,"y":32,"v":8},{"x":11,"y":32,"v":14},{"x":13,"y":32,"v":6},{"x":14,"y":32,"v":12},{"x":15,"y":32,"v":14},{"x":16,"y":32,"v":9},{"x":17,"y":32,"v":9},{"x":18,"y":32,"v":14},{"x":19,"y":32,"v":14},{"x":20,"y":32,"v":9},{"x":21,"y":32,"v":14},{"x":22,"y":32,"v":9},{"x":23,"y":32,"v":14},{"x":24,"y":32,"v":12},{"x":25,"y":32,"v":9},{"x":26,"y":32,"v":9},{"x":27,"y":32,"v":9},{"x":28,"y":32,"v":5},{"x":29,"y":32,"v":5},{"x":30,"y":32,"v":8},{"x":31,"y":32,"v":1},{"x":32,"y":32,"v":1},{"x":33,"y":32,"v":1},{"x":34,"y":32,"v":8},{"x":35,"y":32,"v":5},{"x":36,"y":32,"v":6},{"x":37,"y":32,"v":9},{"x":38,"y":32,"v":9},{"x":39,"y":32,"v":9},{"x":40,"y":32,"v":12},{"x":41,"y":32,"v":14},{"x":42,"y":32,"v":14},{"x":43,"y":32,"v":17},{"x":44,"y":32,"v":19},
{"x":1,"y":33,"v":19},{"x":2,"y":33,"v":14},{"x":3,"y":33,"v":17},{"x":4,"y":33,"v":14},{"x":5,"y":33,"v":14},{"x":6,"y":33,"v":14},{"x":7,"y":33,"v":14},{"x":9,"y":33,"v":12},{"x":11,"y":33,"v":17},{"x":12,"y":33,"v":14},{"x":15,"y":33,"v":17},{"x":17,"y":33,"v":12},{"x":18,"y":33,"v":17},{"x":19,"y":33,"v":17},{"x":20,"y":33,"v":12},{"x":21,"y":33,"v":17},{"x":23,"y":33,"v":17},{"x":24,"y":33,"v":14},{"x":25,"y":33,"v":12},{"x":26,"y":33,"v":9},{"x":27,"y":33,"v":9},{"x":28,"y":33,"v":9},{"x":29,"y":33,"v":6},{"x":30,"y":33,"v":5},{"x":31,"y":33,"v":8},{"x":32,"y":33,"v":1},{"x":33,"y":33,"v":1},{"x":34,"y":33,"v":1},{"x":35,"y":33,"v":8},{"x":36,"y":33,"v":5},{"x":37,"y":33,"v":6},{"x":38,"y":33,"v":9},{"x":39,"y":33,"v":9},{"x":40,"y":33,"v":9},{"x":41,"y":33,"v":12},{"x":42,"y":33,"v":14},{"x":43,"y":33,"v":14},{"x":44,"y":33,"v":17},
{"x":2,"y":34,"v":19},{"x":3,"y":34,"v":17},{"x":4,"y":34,"v":17},{"x":5,"y":34,"v":17},{"x":6,"y":34,"v":12},{"x":7,"y":34,"v":17},{"x":8,"y":34,"v":17},{"x":9,"y":34,"v":12},{"x":11,"y":34,"v":17},{"x":12,"y":34,"v":14},{"x":13,"y":34,"v":12},{"x":14,"y":34,"v":14},{"x":15,"y":34,"v":14},{"x":16,"y":34,"v":9},{"x":17,"y":34,"v":9},{"x":18,"y":34,"v":14},{"x":20,"y":34,"v":9},{"x":21,"y":34,"v":12},{"x":22,"y":34,"v":12},{"x":23,"y":34,"v":17},{"x":24,"y":34,"v":14},{"x":25,"y":34,"v":14},{"x":26,"y":34,"v":12},{"x":27,"y":34,"v":9},{"x":28,"y":34,"v":9},{"x":29,"y":34,"v":9},{"x":30,"y":34,"v":6},{"x":31,"y":34,"v":5},{"x":32,"y":34,"v":8},{"x":33,"y":34,"v":1},{"x":34,"y":34,"v":1},{"x":35,"y":34,"v":1},{"x":36,"y":34,"v":8},{"x":37,"y":34,"v":5},{"x":38,"y":34,"v":6},{"x":39,"y":34,"v":9},{"x":40,"y":34,"v":9},{"x":41,"y":34,"v":12},{"x":42,"y":34,"v":12},{"x":43,"y":34,"v":14},{"x":44,"y":34,"v":9},
{"x":2,"y":35,"v":19},{"x":3,"y":35,"v":17},{"x":4,"y":35,"v":17},{"x":5,"y":35,"v":12},{"x":6,"y":35,"v":12},{"x":7,"y":35,"v":12},{"x":8,"y":35,"v":12},{"x":9,"y":35,"v":9},{"x":11,"y":35,"v":12},{"x":12,"y":35,"v":9},{"x":13,"y":35,"v":5},{"x":16,"y":35,"v":5},{"x":17,"y":35,"v":9},{"x":18,"y":35,"v":12},{"x":20,"y":35,"v":9},{"x":21,"y":35,"v":14},{"x":23,"y":35,"v":17},{"x":24,"y":35,"v":17},{"x":25,"y":35,"v":14},{"x":26,"y":35,"v":14},{"x":27,"y":35,"v":12},{"x":28,"y":35,"v":9},{"x":29,"y":35,"v":9},{"x":30,"y":35,"v":9},{"x":31,"y":35,"v":6},{"x":32,"y":35,"v":5},{"x":33,"y":35,"v":8},{"x":34,"y":35,"v":1},{"x":35,"y":35,"v":1},{"x":36,"y":35,"v":1},{"x":37,"y":35,"v":8},{"x":38,"y":35,"v":5},{"x":39,"y":35,"v":6},{"x":40,"y":35,"v":9},{"x":41,"y":35,"v":9},{"x":42,"y":35,"v":9},{"x":43,"y":35,"v":9},{"x":44,"y":35,"v":9},{"x":45,"y":35,"v":14},
{"x":1,"y":36,"v":17},{"x":2,"y":36,"v":17},{"x":3,"y":36,"v":14},{"x":4,"y":36,"v":14},{"x":5,"y":36,"v":14},{"x":6,"y":36,"v":14},{"x":8,"y":36,"v":12},{"x":10,"y":36,"v":12},{"x":12,"y":36,"v":12},{"x":14,"y":36,"v":14},{"x":15,"y":36,"v":14},{"x":17,"y":36,"v":14},{"x":18,"y":36,"v":17},{"x":19,"y":36,"v":14},{"x":20,"y":36,"v":12},{"x":21,"y":36,"v":19},{"x":22,"y":36,"v":14},{"x":23,"y":36,"v":19},{"x":24,"y":36,"v":19},{"x":25,"y":36,"v":17},{"x":26,"y":36,"v":14},{"x":27,"y":36,"v":14},{"x":28,"y":36,"v":9},{"x":29,"y":36,"v":9},{"x":30,"y":36,"v":9},{"x":31,"y":36,"v":9},{"x":32,"y":36,"v":6},{"x":33,"y":36,"v":5},{"x":34,"y":36,"v":8},{"x":35,"y":36,"v":1},{"x":36,"y":36,"v":1},{"x":37,"y":36,"v":1},{"x":38,"y":36,"v":8},{"x":39,"y":36,"v":5},{"x":40,"y":36,"v":6},{"x":41,"y":36,"v":9},{"x":42,"y":36,"v":9},{"x":43,"y":36,"v":9},{"x":44,"y":36,"v":12},{"x":45,"y":36,"v":14},{"x":46,"y":36,"v":14},
{"x":5,"y":37,"v":19},{"x":6,"y":37,"v":14},{"x":7,"y":37,"v":19},{"x":8,"y":37,"v":17},{"x":10,"y":37,"v":17},{"x":12,"y":37,"v":12},{"x":13,"y":37,"v":12},{"x":14,"y":37,"v":17},{"x":15,"y":37,"v":17},{"x":16,"y":37,"v":12},{"x":17,"y":37,"v":14},{"x":19,"y":37,"v":14},{"x":20,"y":37,"v":12},{"x":21,"y":37,"v":19},{"x":22,"y":37,"v":17},{"x":25,"y":37,"v":19},{"x":26,"y":37,"v":17},{"x":27,"y":37,"v":14},{"x":28,"y":37,"v":14},{"x":29,"y":37,"v":12},{"x":30,"y":37,"v":9},{"x":31,"y":37,"v":9},{"x":32,"y":37,"v":9},{"x":33,"y":37,"v":6},{"x":34,"y":37,"v":5},{"x":35,"y":37,"v":8},{"x":36,"y":37,"v":1},{"x":37,"y":37,"v":1},{"x":38,"y":37,"v":1},{"x":39,"y":37,"v":8},{"x":40,"y":37,"v":5},{"x":41,"y":37,"v":8},{"x":42,"y":37,"v":9},{"x":44,"y":37,"v":9},{"x":45,"y":37,"v":9},
{"x":5,"y":38,"v":19},{"x":6,"y":38,"v":17},{"x":7,"y":38,"v":19},{"x":8,"y":38,"v":19},{"x":9,"y":38,"v":12},{"x":10,"y":38,"v":12},{"x":11,"y":38,"v":17},{"x":14,"y":38,"v":14},{"x":15,"y":38,"v":12},{"x":16,"y":38,"v":8},{"x":17,"y":38,"v":12},{"x":18,"y":38,"v":14},{"x":19,"y":38,"v":12},{"x":21,"y":38,"v":19},{"x":22,"y":38,"v":14},{"x":26,"y":38,"v":19},{"x":27,"y":38,"v":17},{"x":28,"y":38,"v":14},{"x":29,"y":38,"v":14},{"x":30,"y":38,"v":12},{"x":31,"y":38,"v":9},{"x":32,"y":38,"v":9},{"x":33,"y":38,"v":9},{"x":34,"y":38,"v":6},{"x":35,"y":38,"v":5},{"x":36,"y":38,"v":8},{"x":37,"y":38,"v":1},{"x":38,"y":38,"v":1},{"x":39,"y":38,"v":1},{"x":40,"y":38,"v":8},{"x":41,"y":38,"v":6},{"x":42,"y":38,"v":6},{"x":45,"y":38,"v":9},{"x":46,"y":38,"v":9},
{"x":5,"y":39,"v":17},{"x":6,"y":39,"v":14},{"x":7,"y":39,"v":19},{"x":8,"y":39,"v":14},{"x":9,"y":39,"v":12},{"x":10,"y":39,"v":12},{"x":14,"y":39,"v":12},{"x":15,"y":39,"v":12},{"x":17,"y":39,"v":14},{"x":18,"y":39,"v":19},{"x":19,"y":39,"v":14},{"x":20,"y":39,"v":14},{"x":22,"y":39,"v":17},{"x":27,"y":39,"v":19},{"x":28,"y":39,"v":17},{"x":29,"y":39,"v":14},{"x":30,"y":39,"v":14},{"x":31,"y":39,"v":12},{"x":32,"y":39,"v":9},{"x":33,"y":39,"v":9},{"x":34,"y":39,"v":9},{"x":35,"y":39,"v":6},{"x":36,"y":39,"v":5},{"x":37,"y":39,"v":8},{"x":38,"y":39,"v":1},{"x":39,"y":39,"v":1},{"x":40,"y":39,"v":1},{"x":41,"y":39,"v":6},{"x":42,"y":39,"v":5},{"x":44,"y":39,"v":9},{"x":45,"y":39,"v":9},{"x":47,"y":39,"v":12},
{"x":9,"y":40,"v":17},{"x":10,"y":40,"v":14},{"x":12,"y":40,"v":14},{"x":13,"y":40,"v":12},{"x":16,"y":40,"v":14},{"x":28,"y":40,"v":19},{"x":29,"y":40,"v":17},{"x":30,"y":40,"v":14},{"x":31,"y":40,"v":14},{"x":32,"y":40,"v":12},{"x":33,"y":40,"v":9},{"x":34,"y":40,"v":9},{"x":35,"y":40,"v":9},{"x":36,"y":40,"v":6},{"x":37,"y":40,"v":5},{"x":38,"y":40,"v":8},{"x":39,"y":40,"v":1},{"x":40,"y":40,"v":1},{"x":41,"y":40,"v":1},{"x":42,"y":40,"v":8},{"x":43,"y":40,"v":9},{"x":44,"y":40,"v":12},{"x":46,"y":40,"v":17},
{"x":12,"y":41,"v":17},{"x":13,"y":41,"v":17},{"x":16,"y":41,"v":14},{"x":29,"y":41,"v":19},{"x":30,"y":41,"v":17},{"x":31,"y":41,"v":17},{"x":32,"y":41,"v":14},{"x":33,"y":41,"v":12},{"x":34,"y":41,"v":12},{"x":35,"y":41,"v":12},{"x":36,"y":41,"v":9},{"x":37,"y":41,"v":8},{"x":38,"y":41,"v":6},{"x":39,"y":41,"v":6},{"x":40,"y":41,"v":1},{"x":41,"y":41,"v":1},{"x":42,"y":41,"v":1},{"x":43,"y":41,"v":6},{"x":44,"y":41,"v":9},{"x":45,"y":41,"v":12},{"x":46,"y":41,"v":14},{"x":48,"y":41,"v":14},
{"x":12,"y":42,"v":17},{"x":13,"y":42,"v":17},{"x":16,"y":42,"v":17},{"x":30,"y":42,"v":19},{"x":31,"y":42,"v":17},{"x":32,"y":42,"v":14},{"x":33,"y":42,"v":14},{"x":34,"y":42,"v":12},{"x":35,"y":42,"v":9},{"x":36,"y":42,"v":9},{"x":37,"y":42,"v":9},{"x":38,"y":42,"v":6},{"x":39,"y":42,"v":5},{"x":40,"y":42,"v":8},{"x":41,"y":42,"v":1},{"x":42,"y":42,"v":1},{"x":43,"y":42,"v":1},{"x":44,"y":42,"v":8},{"x":45,"y":42,"v":9},{"x":46,"y":42,"v":12},{"x":48,"y":42,"v":17},
{"x":13,"y":43,"v":19},{"x":16,"y":43,"v":19},{"x":31,"y":43,"v":19},{"x":32,"y":43,"v":17},{"x":33,"y":43,"v":14},{"x":34,"y":43,"v":14},{"x":35,"y":43,"v":9},{"x":36,"y":43,"v":9},{"x":40,"y":43,"v":9},{"x":41,"y":43,"v":6},{"x":42,"y":43,"v":1},{"x":43,"y":43,"v":1},{"x":44,"y":43,"v":1},{"x":45,"y":43,"v":8},{"x":46,"y":43,"v":9},{"x":47,"y":43,"v":12},{"x":50,"y":43,"v":14},{"x":51,"y":43,"v":14},{"x":52,"y":43,"v":14},
{"x":32,"y":44,"v":19},{"x":33,"y":44,"v":17},{"x":34,"y":44,"v":9},{"x":35,"y":44,"v":9},{"x":36,"y":44,"v":12},{"x":37,"y":44,"v":9},{"x":39,"y":44,"v":9},{"x":40,"y":44,"v":12},{"x":41,"y":44,"v":9},{"x":42,"y":44,"v":8},{"x":43,"y":44,"v":1},{"x":44,"y":44,"v":1},{"x":45,"y":44,"v":1},{"x":46,"y":44,"v":8},{"x":47,"y":44,"v":9},{"x":48,"y":44,"v":12},{"x":49,"y":44,"v":9},{"x":52,"y":44,"v":12},
{"x":35,"y":45,"v":14},{"x":36,"y":45,"v":14},{"x":37,"y":45,"v":9},{"x":38,"y":45,"v":9},{"x":39,"y":45,"v":9},{"x":41,"y":45,"v":14},{"x":42,"y":45,"v":9},{"x":43,"y":45,"v":8},{"x":44,"y":45,"v":1},{"x":45,"y":45,"v":1},{"x":46,"y":45,"v":1},{"x":47,"y":45,"v":8},{"x":48,"y":45,"v":9},{"x":50,"y":45,"v":9},{"x":51,"y":45,"v":9},{"x":52,"y":45,"v":9},{"x":53,"y":45,"v":12},{"x":54,"y":45,"v":14},
{"x":36,"y":46,"v":14},{"x":38,"y":46,"v":9},{"x":40,"y":46,"v":14},{"x":41,"y":46,"v":14},{"x":42,"y":46,"v":12},{"x":43,"y":46,"v":9},{"x":44,"y":46,"v":8},{"x":45,"y":46,"v":1},{"x":46,"y":46,"v":1},{"x":47,"y":46,"v":1},{"x":48,"y":46,"v":8},{"x":51,"y":46,"v":9},{"x":52,"y":46,"v":9},{"x":54,"y":46,"v":12},{"x":55,"y":46,"v":14},
{"x":39,"y":47,"v":12},{"x":43,"y":47,"v":12},{"x":44,"y":47,"v":9},{"x":45,"y":47,"v":8},{"x":46,"y":47,"v":1},{"x":47,"y":47,"v":1},{"x":48,"y":47,"v":1},{"x":49,"y":47,"v":8},{"x":50,"y":47,"v":9},{"x":52,"y":47,"v":9},{"x":53,"y":47,"v":9},{"x":55,"y":47,"v":12},{"x":56,"y":47,"v":14},{"x":57,"y":47,"v":14},
{"x":41,"y":48,"v":14},{"x":42,"y":48,"v":17},{"x":44,"y":48,"v":12},{"x":45,"y":48,"v":9},{"x":46,"y":48,"v":8},{"x":47,"y":48,"v":1},{"x":48,"y":48,"v":1},{"x":49,"y":48,"v":1},{"x":50,"y":48,"v":8},{"x":52,"y":48,"v":6},{"x":53,"y":48,"v":9},{"x":54,"y":48,"v":9},{"x":55,"y":48,"v":9},{"x":56,"y":48,"v":12},{"x":57,"y":48,"v":14},{"x":58,"y":48,"v":14},
{"x":44,"y":49,"v":9},{"x":47,"y":49,"v":8},{"x":48,"y":49,"v":1},{"x":49,"y":49,"v":1},{"x":50,"y":49,"v":1},{"x":51,"y":49,"v":8},{"x":53,"y":49,"v":6},{"x":54,"y":49,"v":9},{"x":55,"y":49,"v":9},{"x":56,"y":49,"v":9},{"x":57,"y":49,"v":12},{"x":58,"y":49,"v":14},
{"x":43,"y":50,"v":14},{"x":45,"y":50,"v":9},{"x":47,"y":50,"v":9},{"x":48,"y":50,"v":8},{"x":49,"y":50,"v":1},{"x":50,"y":50,"v":1},{"x":51,"y":50,"v":1},{"x":52,"y":50,"v":8},{"x":54,"y":50,"v":6},{"x":55,"y":50,"v":9},{"x":56,"y":50,"v":9},{"x":58,"y":50,"v":12},{"x":59,"y":50,"v":14},{"x":60,"y":50,"v":14},
{"x":43,"y":51,"v":14},{"x":45,"y":51,"v":9},{"x":46,"y":51,"v":9},{"x":49,"y":51,"v":8},{"x":50,"y":51,"v":1},{"x":51,"y":51,"v":1},{"x":52,"y":51,"v":1},{"x":53,"y":51,"v":8},{"x":54,"y":51,"v":5},{"x":55,"y":51,"v":6},{"x":56,"y":51,"v":9},{"x":57,"y":51,"v":9},{"x":58,"y":51,"v":9},{"x":59,"y":51,"v":12},{"x":60,"y":51,"v":14},{"x":61,"y":51,"v":14},
{"x":43,"y":52,"v":14},{"x":44,"y":52,"v":12},{"x":45,"y":52,"v":9},{"x":46,"y":52,"v":9},{"x":47,"y":52,"v":9},{"x":48,"y":52,"v":6},{"x":50,"y":52,"v":8},{"x":51,"y":52,"v":1},{"x":52,"y":52,"v":1},{"x":53,"y":52,"v":1},{"x":54,"y":52,"v":8},{"x":55,"y":52,"v":5},{"x":56,"y":52,"v":6},{"x":57,"y":52,"v":9},{"x":58,"y":52,"v":9},{"x":59,"y":52,"v":9},{"x":60,"y":52,"v":12},{"x":61,"y":52,"v":14},{"x":62,"y":52,"v":14},
{"x":45,"y":53,"v":12},{"x":47,"y":53,"v":9},{"x":48,"y":53,"v":9},{"x":49,"y":53,"v":6},{"x":51,"y":53,"v":8},{"x":52,"y":53,"v":1},{"x":53,"y":53,"v":1},{"x":54,"y":53,"v":1},{"x":55,"y":53,"v":8},{"x":56,"y":53,"v":5},{"x":57,"y":53,"v":6},{"x":58,"y":53,"v":9},{"x":59,"y":53,"v":9},{"x":60,"y":53,"v":9},{"x":61,"y":53,"v":12},
{"x":45,"y":54,"v":14},{"x":46,"y":54,"v":12},{"x":48,"y":54,"v":9},{"x":49,"y":54,"v":9},{"x":50,"y":54,"v":6},{"x":51,"y":54,"v":5},{"x":52,"y":54,"v":8},{"x":53,"y":54,"v":1},{"x":54,"y":54,"v":1},{"x":55,"y":54,"v":1},{"x":56,"y":54,"v":8},{"x":57,"y":54,"v":5},{"x":58,"y":54,"v":6},{"x":59,"y":54,"v":9},{"x":60,"y":54,"v":9},{"x":61,"y":54,"v":9},{"x":62,"y":54,"v":12},
{"x":46,"y":55,"v":14},{"x":47,"y":55,"v":12},{"x":48,"y":55,"v":9},{"x":49,"y":55,"v":9},{"x":50,"y":55,"v":9},{"x":51,"y":55,"v":6},{"x":52,"y":55,"v":5},{"x":53,"y":55,"v":8},{"x":54,"y":55,"v":1},{"x":55,"y":55,"v":1},{"x":56,"y":55,"v":1},{"x":57,"y":55,"v":8},{"x":58,"y":55,"v":5},{"x":59,"y":55,"v":6},{"x":60,"y":55,"v":9},{"x":61,"y":55,"v":9},{"x":62,"y":55,"v":9},{"x":63,"y":55,"v":12},
{"x":47,"y":56,"v":14},{"x":48,"y":56,"v":12},{"x":49,"y":56,"v":9},{"x":50,"y":56,"v":9},{"x":51,"y":56,"v":9},{"x":52,"y":56,"v":6},{"x":53,"y":56,"v":5},{"x":54,"y":56,"v":8},{"x":55,"y":56,"v":1},{"x":56,"y":56,"v":1},{"x":57,"y":56,"v":1},{"x":58,"y":56,"v":8},{"x":59,"y":56,"v":5},{"x":60,"y":56,"v":6},{"x":61,"y":56,"v":9},{"x":62,"y":56,"v":9},{"x":63,"y":56,"v":9},
{"x":47,"y":57,"v":14},{"x":48,"y":57,"v":14},{"x":49,"y":57,"v":12},{"x":51,"y":57,"v":9},{"x":52,"y":57,"v":9},{"x":53,"y":57,"v":6},{"x":54,"y":57,"v":5},{"x":55,"y":57,"v":8},{"x":56,"y":57,"v":1},{"x":57,"y":57,"v":1},{"x":58,"y":57,"v":1},{"x":59,"y":57,"v":8},{"x":60,"y":57,"v":5},{"x":61,"y":57,"v":6},{"x":62,"y":57,"v":9},{"x":63,"y":57,"v":12},
{"x":48,"y":58,"v":14},{"x":49,"y":58,"v":14},{"x":50,"y":58,"v":12},{"x":51,"y":58,"v":9},{"x":52,"y":58,"v":9},{"x":53,"y":58,"v":9},{"x":54,"y":58,"v":6},{"x":55,"y":58,"v":5},{"x":56,"y":58,"v":8},{"x":57,"y":58,"v":1},{"x":58,"y":58,"v":1},{"x":59,"y":58,"v":1},{"x":60,"y":58,"v":8},{"x":61,"y":58,"v":5},{"x":62,"y":58,"v":6},{"x":63,"y":58,"v":9},{"x":64,"y":58,"v":12},
{"x":50,"y":59,"v":14},{"x":51,"y":59,"v":12},{"x":52,"y":59,"v":9},{"x":53,"y":59,"v":9},{"x":54,"y":59,"v":9},{"x":55,"y":59,"v":6},{"x":56,"y":59,"v":5},{"x":57,"y":59,"v":8},{"x":58,"y":59,"v":1},{"x":59,"y":59,"v":1},{"x":60,"y":59,"v":1},{"x":61,"y":59,"v":8},{"x":62,"y":59,"v":5},{"x":63,"y":59,"v":6},{"x":64,"y":59,"v":9},{"x":65,"y":59,"v":12},
{"x":50,"y":60,"v":14},{"x":51,"y":60,"v":14},{"x":52,"y":60,"v":12},{"x":53,"y":60,"v":9},{"x":54,"y":60,"v":9},{"x":55,"y":60,"v":9},{"x":56,"y":60,"v":6},{"x":57,"y":60,"v":5},{"x":58,"y":60,"v":8},{"x":59,"y":60,"v":1},{"x":60,"y":60,"v":1},{"x":61,"y":60,"v":1},{"x":62,"y":60,"v":8},{"x":65,"y":60,"v":9},
{"x":51,"y":61,"v":14},{"x":52,"y":61,"v":14},{"x":53,"y":61,"v":12},{"x":54,"y":61,"v":9},{"x":55,"y":61,"v":9},{"x":56,"y":61,"v":9},{"x":57,"y":61,"v":6},{"x":58,"y":61,"v":5},{"x":59,"y":61,"v":8},{"x":60,"y":61,"v":1},{"x":61,"y":61,"v":1},{"x":62,"y":61,"v":1},{"x":63,"y":61,"v":8},{"x":64,"y":61,"v":9},{"x":65,"y":61,"v":12},
{"x":52,"y":62,"v":14},{"x":54,"y":62,"v":14},{"x":55,"y":62,"v":9},{"x":56,"y":62,"v":9},{"x":57,"y":62,"v":9},{"x":58,"y":62,"v":6},{"x":59,"y":62,"v":5},{"x":60,"y":62,"v":8},{"x":61,"y":62,"v":1},{"x":62,"y":62,"v":1},{"x":63,"y":62,"v":1},{"x":64,"y":62,"v":8},{"x":65,"y":62,"v":9},
{"x":55,"y":63,"v":12},{"x":56,"y":63,"v":9},{"x":57,"y":63,"v":12},{"x":58,"y":63,"v":9},{"x":59,"y":63,"v":6},{"x":61,"y":63,"v":8},{"x":62,"y":63,"v":1},{"x":63,"y":63,"v":1},{"x":64,"y":63,"v":1},{"x":65,"y":63,"v":8},
{"x":58,"y":64,"v":12},{"x":59,"y":64,"v":12},{"x":61,"y":64,"v":9},{"x":62,"y":64,"v":8},{"x":63,"y":64,"v":1},{"x":64,"y":64,"v":1},{"x":65,"y":64,"v":1},
{"x":59,"y":65,"v":12},{"x":60,"y":65,"v":9},{"x":61,"y":65,"v":12},{"x":62,"y":65,"v":9},{"x":63,"y":65,"v":8},{"x":64,"y":65,"v":1},{"x":65,"y":65,"v":1}
]},"mark":{"type":"rect","width":26.8,"height":26.8},"encoding":{"x":{"field":"x","type":"quantitative","scale":{"domain":[0.5,65.5],"nice":false,"zero":false},"axis":{"orient":"bottom","values":[10,20,30,40,50,60],"grid":false,"zindex":1,"domainWidth":6,"domainColor":"black","domainCap":"square","tickColor":"black","tickWidth":5,"tickSize":9,"tickCap":"round","labelFontSize":58,"labelFontWeight":"bold","labelColor":"black","labelPadding":2,"labelFlush":false,"title":"Residue index","titleFontSize":60,"titleFontWeight":"bold","titleColor":"black","titlePadding":-5}},"y":{"field":"y","type":"quantitative","scale":{"domain":[0.5,65.5],"nice":false,"zero":false},"axis":{"orient":"left","values":[10,20,30,40,50,60],"grid":false,"zindex":1,"domainWidth":6,"domainColor":"black","domainCap":"square","tickColor":"black","tickWidth":5,"tickSize":9,"tickCap":"round","labelFontSize":58,"labelFontWeight":"bold","labelColor":"black","labelPadding":3,"labelOffset":4,"title":"Residue index","titleFontSize":60,"titleFontWeight":"bold","titleColor":"black","titlePadding":3}},"color":{"field":"v","type":"quantitative","scale":{"domain":[0.715,1.95,1.95,3.25,3.25,4.56,4.56,5.87,5.87,7.15,7.15,8.43,8.43,20,20,21.28],"range":["#ff0000","#ff0000","#ff2200","#ff2200","#ff4500","#ff4500","#ff6400","#ff6400","#ff8c00","#ff8c00","#ffa500","#ffa500","#a8c080","#4e80c6","#0000ff","#0000ff"],"interpolate":"rgb","nice":false,"zero":false,"clamp":true},"legend":{"orient":"none","legendX":1721,"legendY":0,"title":null,"type":"gradient","direction":"vertical","gradientLength":1697,"gradientThickness":11,"gradientStrokeColor":"black","gradientStrokeWidth":6,"values":[5,10,15,20],"format":"d","tickCount":300,"labelFontSize":46,"labelFontWeight":"bold","labelColor":"black","labelOffset":10,"labelOverlap":false,"encode":{"labels":{"update":{"dy":{"value":4}}}}}}}},{"data":{"values":[{"x":1,"y":1}]},"mark":{"type":"point","opacity":0},"encoding":{"x":{"field":"x","type":"quantitative","axis":{"orient":"top","values":[10,20,30,40,50,60],"grid":false,"labels":false,"title":null,"zindex":1,"domainWidth":6,"domainColor":"black","domainCap":"square","tickColor":"black","tickWidth":5,"tickSize":9,"tickCap":"round"}},"y":{"field":"y","type":"quantitative","axis":{"orient":"right","values":[10,20,30,40,50,60],"grid":false,"labels":false,"title":null,"zindex":1,"domainWidth":6,"domainColor":"black","domainCap":"square","tickColor":"black","tickWidth":5,"tickSize":9,"tickCap":"round"}}}}]}
